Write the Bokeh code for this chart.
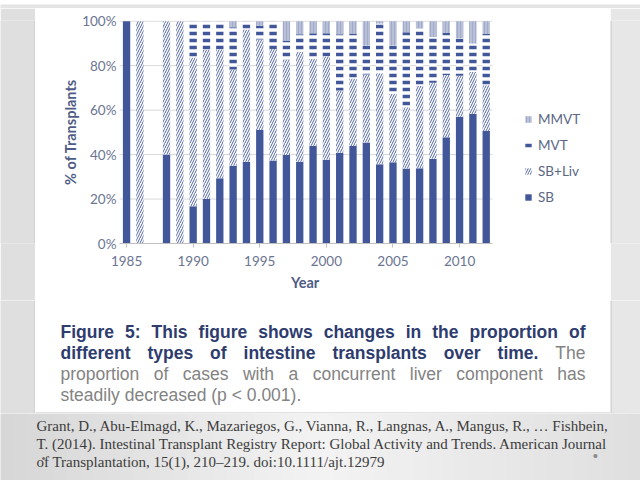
from bokeh.plotting import figure
from bokeh.models import (ColumnDataSource, Range1d, FixedTicker, PrintfTickFormatter,
                          Legend, LegendItem, Label, Span, Title)
from bokeh.layouts import column, row
from bokeh.embed import file_html
from bokeh.resources import INLINE

# ---------------- data (percent of transplants) ----------------
years = [1985, 1986, 1988, 1989, 1990, 1991, 1992, 1993, 1994, 1995, 1996, 1997, 1998, 1999,
         2000, 2001, 2002, 2003, 2004, 2005, 2006, 2007, 2008, 2009, 2010, 2011, 2012]
sb = [100, 0, 40, 0, 16.7, 20.0, 29.4, 35.0, 36.8, 51.0, 37.3, 39.8, 36.8, 44.0,
      37.7, 40.8, 43.8, 45.4, 35.6, 36.6, 33.7, 33.8, 38.1, 47.8, 57.0, 58.3, 50.6]
sb_liv = [0, 100, 60, 100, 67.0, 67.0, 58.0, 43.3, 59.5, 40.7, 50.2, 43.0, 49.4, 39.0,
          46.5, 28.0, 30.4, 30.6, 41.0, 30.8, 27.6, 37.2, 34.2, 28.0, 18.5, 18.8, 20.6]
mvt = [0, 0, 0, 0, 16.3, 13.0, 12.6, 19.0, 3.7, 6.2, 12.5, 8.5, 7.9, 11.6,
       10.4, 25.3, 20.3, 13.1, 22.4, 21.7, 33.7, 25.9, 20.6, 18.9, 16.8, 12.8, 23.0]
mmvt = [0, 0, 0, 0, 0, 0, 0, 2.7, 0, 2.1, 0, 8.7, 5.9, 5.4,
        5.4, 5.9, 5.5, 10.9, 1.0, 10.9, 5.0, 3.1, 7.1, 5.3, 7.7, 10.1, 5.8]
series = ["SB", "SB+Liv", "MVT", "MMVT"]
x_ticks = [1985, 1990, 1995, 2000, 2005, 2010]
y_ticks = [0, 20, 40, 60, 80, 100]

caption_bold_1 = "Figure 5: This figure shows changes in the proportion of"
caption_bold_2 = "different types of intestine transplants over time."
caption_reg_2 = "The"
caption_reg_3 = "proportion of cases with a concurrent liver component has"
caption_reg_4 = "steadily decreased (p < 0.001)."
citation = [
    "Grant, D., Abu-Elmagd, K., Mazariegos, G., Vianna, R., Langnas, A., Mangus, R., \u2026 Fishbein,",
    "T. (2014). Intestinal Transplant Registry Report: Global Activity and Trends. American Journal",
    "of Transplantation, 15(1), 210\u2013219. doi:10.1111/ajt.12979",
]

# ---------------- styling ----------------
NAVY = "#42579a"
TICK_C = "#6a7591"
TITLE_C = "#4e5c86"
CHART_FONT = "Lato"
GRAY_T = "#e4e4e4"
GRAY_L = "#dfdfdf"
GRAY_R = "#e7e7e7"
BOX_LINE = "#c4c4c4"

# ---------------- chart figure (frame spans bars + legend area) ----------------
src = ColumnDataSource(dict(year=years, SB=sb, MVT=mvt, MMVT=mmvt, **{"SB+Liv": sb_liv}))
X_START, X_END_BARS, X_END = 1984.47, 2012.47, 2021.33

p = figure(width=575, height=292, x_range=Range1d(X_START, X_END), y_range=Range1d(0, 100.3),
           min_border_left=84, min_border_right=0, min_border_top=12, min_border_bottom=57,
           toolbar_location=None, output_backend="svg", sizing_mode="fixed",
           background_fill_color="white", border_fill_color="white", outline_line_color=None)

p.xgrid.visible = False
p.ygrid.visible = False
# horizontal gridlines limited to the bar area
p.segment(x0=X_START, x1=X_END_BARS, y0=y_ticks, y1=y_ticks, line_color="#d9d9d9", line_width=1)

rs = p.vbar_stack(series, x="year", width=0.55, source=src, line_color=None,
                  fill_color=[NAVY, "white", "white", "#b8c0d8"],
                  hatch_pattern=[" ", "/", "-", "|"],
                  hatch_color=[NAVY, "#5266a5", NAVY, "#a2acca"],
                  hatch_scale=[4, 5, 7, 3],
                  hatch_weight=[1, 1.0, 3.5, 1])

p.yaxis.ticker = FixedTicker(ticks=y_ticks)
p.yaxis.formatter = PrintfTickFormatter(format="%d%%")
p.yaxis.axis_line_color = None
p.yaxis.major_tick_line_color = None
p.yaxis.minor_tick_line_color = None
p.yaxis.major_tick_out = 0
p.yaxis.major_tick_in = 0
p.yaxis.major_label_standoff = 3
p.yaxis.axis_label = "% of Transplants"
p.yaxis.axis_label_standoff = 0

p.xaxis.ticker = FixedTicker(ticks=x_ticks)
p.xaxis.bounds = (X_START, X_END_BARS)
p.xaxis.axis_line_color = "#c0c0c0"
p.xaxis.major_tick_line_color = "#c0c0c0"
p.xaxis.minor_tick_line_color = None
p.xaxis.major_tick_in = 0
p.xaxis.major_tick_out = 4
p.xaxis.major_label_standoff = 8

for ax in (p.xaxis, p.yaxis):
    ax.major_label_text_font = CHART_FONT
    ax.major_label_text_font_size = "13.5px"
    ax.major_label_text_color = TICK_C
    ax.axis_label_text_font = CHART_FONT
    ax.axis_label_text_font_size = "14.5px"
    ax.axis_label_text_font_style = "bold"
    ax.axis_label_text_color = TITLE_C

# x-axis title, centred under the bar area (the frame also holds the legend)
FRAME_W = 575 - 84
BARS_W = FRAME_W * (X_END_BARS - X_START) / (X_END - X_START)
YEAR_TEXT_W = 30
p.add_layout(Title(text="Year", align="left", offset=BARS_W / 2 - YEAR_TEXT_W / 2, standoff=10,
                   text_font=CHART_FONT, text_font_size="14.5px", text_font_style="bold",
                   text_color=TITLE_C, vertical_align="top"), "below")

legend = Legend(items=[LegendItem(label=series[i], renderers=[rs[i]]) for i in (3, 2, 1, 0)],
                location=(405, 38), padding=0, margin=0, spacing=10,
                glyph_width=8, glyph_height=8, label_height=16, label_standoff=6,
                label_text_font=CHART_FONT, label_text_font_size="13.5px",
                label_text_color="#5b6784", border_line_color=None, background_fill_alpha=0)
p.add_layout(legend)


def blank_fig(w, h, bg):
    f = figure(width=w, height=h, x_range=Range1d(0, w), y_range=Range1d(0, h),
               x_axis_location=None, y_axis_location=None, min_border=0,
               toolbar_location=None, output_backend="svg", sizing_mode="fixed",
               background_fill_color=bg, border_fill_color=bg, outline_line_color=None)
    f.xgrid.visible = False
    f.ygrid.visible = False
    return f


# ---------------- caption (justified, Helvetica metrics) ----------------
REG = dict(zip("abcdefghijklmnopqrstuvwxyz",
               [556, 556, 500, 556, 556, 278, 556, 556, 222, 222, 500, 222, 833,
                556, 556, 556, 556, 333, 500, 278, 556, 500, 722, 500, 500, 500]))
REG.update({"T": 611, "F": 611, " ": 278, ".": 278, ":": 278, "(": 333, ")": 333, "<": 584})
BOLD = dict(zip("abcdefghijklmnopqrstuvwxyz",
                [556, 611, 556, 611, 556, 333, 611, 611, 278, 278, 556, 278, 889,
                 611, 611, 611, 611, 389, 556, 333, 611, 556, 778, 556, 556, 500]))
BOLD.update({"T": 611, "F": 611, " ": 278, ".": 278, ":": 333})
for d in "0123456789":
    REG[d] = 556
    BOLD[d] = 556

CAP_SIZE = 17.5
CAP_BOLD_C = "#2e3c6e"
CAP_REG_C = "#838383"
CAP_H = 113
cap = blank_fig(575, CAP_H, "white")
X0, X1 = 25, 550


def word_w(wd, bold):
    t = BOLD if bold else REG
    return sum(t.get(c, 556) for c in wd) * CAP_SIZE / 1000.0


def justified(words, y):
    widths = [word_w(w, b) for w, b in words]
    gap = (X1 - X0 - sum(widths)) / (len(words) - 1)
    x = X0
    for (w, b), wd in zip(words, widths):
        cap.add_layout(Label(x=x, y=y, text=w, text_font="Liberation Sans",
                             text_font_size=f"{CAP_SIZE}px",
                             text_font_style="bold" if b else "normal",
                             text_color=CAP_BOLD_C if b else CAP_REG_C,
                             text_baseline="middle", text_align="left"))
        x += wd + gap


justified([(w, True) for w in caption_bold_1.split()], 82)
justified([(w, True) for w in caption_bold_2.split()] + [(caption_reg_2, False)], 60.5)
justified([(w, False) for w in caption_reg_3.split()], 39.5)
cap.add_layout(Label(x=X0, y=18.5, text=caption_reg_4, text_font="Liberation Sans",
                     text_font_size=f"{CAP_SIZE}px", text_color=CAP_REG_C,
                     text_baseline="middle", text_align="left"))
cap.add_layout(Span(location=0.5, dimension="width", line_color=BOX_LINE, line_width=1))


# ---------------- slide background pieces ----------------
def strip(w, h, bg, edge):
    f = blank_fig(w, h, bg)
    f.add_layout(Span(location=edge, dimension="height", line_color=BOX_LINE, line_width=1))
    return f


top = blank_fig(640, 8, GRAY_T)
top.segment(x0=35, x1=610, y0=0.5, y1=0.5, line_color=BOX_LINE, line_width=1)
l1 = strip(35, 292, GRAY_L, 34.5)
l2 = strip(35, CAP_H, GRAY_L, 34.5)
r1 = strip(30, 292, GRAY_R, 0.5)
r2 = strip(30, CAP_H, GRAY_R, 0.5)

BOT_H = 480 - 8 - 292 - CAP_H
bot = blank_fig(640, BOT_H, "#e6e6e6")
stops = [(0, (0xd6, 0xd6, 0xd6)), (320, (0xf3, 0xf3, 0xf3)), (640, (0xdf, 0xdf, 0xdf))]
band_l, band_r, band_c = [], [], []
nb = 48
for i in range(nb):
    a, b = i * 640 / nb, (i + 1) * 640 / nb
    m = (a + b) / 2
    (x0, c0), (x1, c1) = (stops[0], stops[1]) if m < 320 else (stops[1], stops[2])
    t = (m - x0) / (x1 - x0)
    col = tuple(int(round(c0[k] + (c1[k] - c0[k]) * t)) for k in range(3))
    band_l.append(a)
    band_r.append(b + 0.5)
    band_c.append("#%02x%02x%02x" % col)
bot.quad(left=band_l, right=band_r, bottom=0, top=BOT_H, fill_color=band_c, line_color=None)

for txt, y in zip(citation, [BOT_H - 12, BOT_H - 30, BOT_H - 48]):
    bot.add_layout(Label(x=36, y=y, text=txt, text_font="Liberation Serif",
                         text_font_size="15px", text_color="#3c3c3c",
                         text_baseline="middle", text_align="left"))
bot.add_layout(Label(x=595, y=BOT_H - 42, text="\u2022", text_font="Liberation Sans",
                     text_font_size="15px", text_color="#8c8c8c",
                     text_baseline="middle", text_align="center"))
bot.add_layout(Label(x=43, y=BOT_H - 45, text="\u2022", text_font="Liberation Sans",
                     text_font_size="10px", text_color="#666666",
                     text_baseline="middle", text_align="center"))

layout = column(top,
                row(l1, p, r1, spacing=0),
                row(l2, cap, r2, spacing=0),
                bot, spacing=0)

open("out.html", "w").write(file_html(layout, INLINE))
